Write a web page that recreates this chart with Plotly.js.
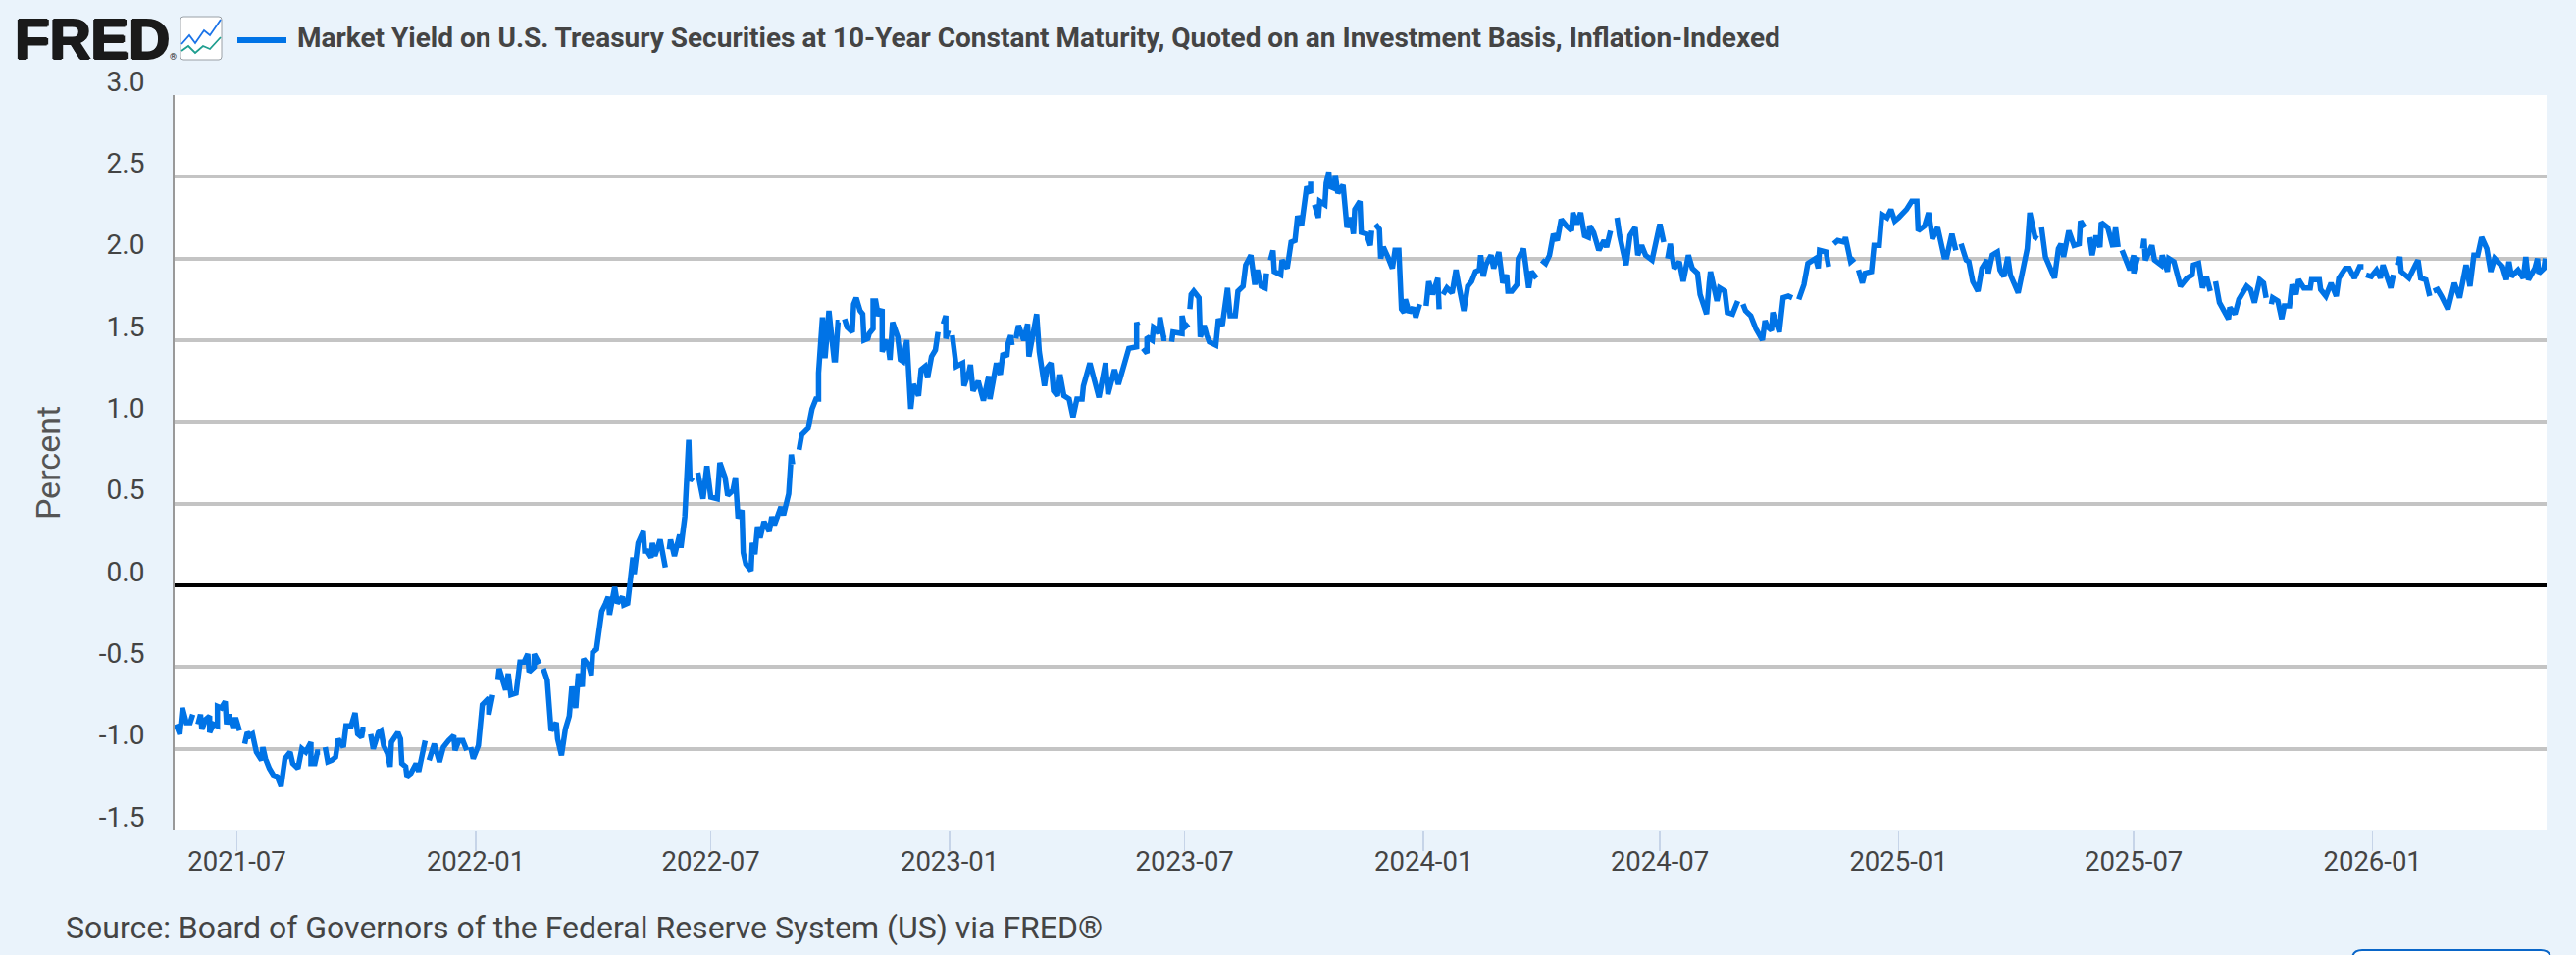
<!DOCTYPE html>
<html><head><meta charset="utf-8">
<script src="https://cdn.plot.ly/plotly-3.0.1.min.js"></script>
<style>html,body{margin:0;padding:0;background:#eaf3fb}#chart{width:2626px;height:974px}</style>
</head><body><div id="chart"></div>
<script>
const seriesName = "Market Yield on U.S. Treasury Securities at 10-Year Constant Maturity, Quoted on an Investment Basis, Inflation-Indexed";
const sourceText = "Source: Board of Governors of the Federal Reserve System (US) via FRED®";
const yTicks = [-1.5,-1,-0.5,0,0.5,1,1.5,2,2.5,3];
const yTickLabels = ["-1.5","-1.0","-0.5","0.0","0.5","1.0","1.5","2.0","2.5","3.0"];
const xTicks = ["2021-07-01","2022-01-01","2022-07-01","2023-01-01","2023-07-01","2024-01-01","2024-07-01","2025-01-01","2025-07-01","2026-01-01"];
const xTickLabels = ["2021-07","2022-01","2022-07","2023-01","2023-07","2024-01","2024-07","2025-01","2025-07","2026-01"];
const firstDay = "2021-07-01";
// observation day (days after firstDay) for each continuous run between missing observations
const dayRuns = [
[-47,-44,-42,-39,-36,-34],
[-30,-28,-27,-24,-21,-21,-18,-15,-15,-12,-9,-8,-6,-3,-1,2],
[6,8,10,12,15,19,20,22,25,28,31,34,37,39,41,43,47,50,53,57,57,60,62,64],
[68,70,73,76,78,82,84,88,91,93,96,97,99],
[103,105,109,111,113,116,118,119,124,126,127,130,131,134,138,140,145],
[148,152,156,159,163,167,168,171,174,177],
[180,182,186,189,194,194,197],
[201,202,207,209,211,215,218,221,224,225,229,229,233],
[236,239,242,246,247,250,253,256,258,261,263,266,267,271,273,274,277,281,284,286,287,291,293,297,298,301,305,306,309,313,314,316,319,320,322,326,330],
[333,334,337,341,342,345,348,349,351],
[355,357,359,362,365,370,372,376,378,382,384,386,389,390,392,396,397,399,401,403,406,410,412,414,419,421,425,427,428],
[433,435,440,443,446,448,448,451,453,456,460,461,463,464],
[468,470,474,475,477,480,482,483,486,487,490,490,492,494,497,497,501,503,505,509,511,513,516,519,521,525,527,530,532,535,538,540],
[544,546,546,548],
[551,554,559,560,564,565,567,571,574,575,579,580,585,588,590,593,594,596,597],
[600,602,606,609,610,616,618,622,624,627,629,632,634,637,641,644,647,651,652,657,660,664,669,671,676,679,683,687,693,693,694],
[698,701,701,705,706,708,710,711,714,716],
[720,721,728,728,730,733],
[734,735,737,741,742,745,747,749,754,756,759,763,765,769,771,775,777,781,784,786,789,792,793],
[796,798,799,804,805,809,812,815,817,820,824,827,827],
[830,833,834,838,839,841,842,845,846,848,852,855,858,860,861,865,866,870,873,874],
[877,880,881,883,887,890,892,895,897,899,900,903,906,908,911],
[916,918,921,925,926],
[929,932,936,939,941,945,948,951,954,957,958,960,962,966,968,972,975,978,979,982,986,987,991,995,997,1001],
[1005,1008,1011,1014,1017,1020,1024,1028,1029,1032,1035,1038,1041,1042,1045,1049,1053,1055,1058],
[1063,1065,1070,1073,1077,1079,1082,1085,1090,1093,1096,1099],
[1102,1104,1107,1111,1114,1118,1121,1125,1127,1132,1134,1135,1140,1142,1146,1148,1152,1156],
[1160,1162,1166,1170,1175,1177,1179,1182,1183,1188,1191,1195,1198],
[1203,1207,1210,1216,1218,1219,1224,1226],
[1230,1233,1238,1239,1243,1246],
[1249,1252,1254,1259,1261,1265,1267,1271,1274,1277,1280,1286,1290,1294,1295,1300,1303,1306,1310,1315,1317,1321,1324],
[1328,1332,1334,1337,1341,1344,1348,1349,1352,1356,1358,1361,1364,1366,1372,1376,1379,1381,1385,1387],
[1390,1393,1400,1403,1405,1407,1411,1415,1419,1420,1423],
[1427,1429,1432,1435,1436,1441,1445,1447,1449],
[1452,1458,1461,1461,1464],
[1468,1469,1470,1475,1477,1482,1483,1487,1488,1492,1497,1502,1506,1507,1511,1514,1517,1520],
[1524,1527,1534,1535,1539,1542,1548,1551,1554,1558,1561,1563],
[1567,1568,1572,1575,1577,1581,1583,1586,1588,1592,1597,1598,1604,1605,1609,1613,1617,1619,1624,1627,1631,1635,1638],
[1640,1644,1648,1651,1653,1657,1659,1661],
[1664,1666,1667,1673,1678,1680,1682,1686,1689],
[1692,1695,1698,1703,1708,1712,1717,1720,1723,1726,1729,1733,1736,1739,1745,1748,1750,1752,1757,1761,1763,1765,1770,1772,1773,1777,1778]
];
const yieldRuns = [
[-0.85,-0.91,-0.75,-0.84,-0.84,-0.79],
[-0.85,-0.79,-0.88,-0.82,-0.80,-0.90,-0.85,-0.86,-0.74,-0.75,-0.71,-0.85,-0.79,-0.87,-0.81,-0.89],
[-0.97,-0.90,-0.92,-0.91,-1.02,-1.07,-0.99,-1.06,-1.12,-1.16,-1.17,-1.23,-1.06,-1.04,-1.02,-1.09,-1.12,-1.00,-1.02,-0.96,-1.09,-1.09,-1.02,-1.02],
[-0.99,-1.08,-1.07,-1.05,-0.94,-0.99,-0.86,-0.86,-0.78,-0.91,-0.93,-0.88,-0.88],
[-0.91,-1.00,-0.90,-0.89,-0.98,-1.03,-1.11,-0.96,-0.90,-0.94,-1.09,-1.11,-1.17,-1.15,-1.09,-1.14,-0.95],
[-1.07,-0.97,-1.08,-0.99,-0.95,-0.92,-1.01,-0.95,-0.95,-1.01],
[-0.99,-1.06,-0.98,-0.73,-0.69,-0.79,-0.67],
[-0.58,-0.51,-0.64,-0.54,-0.67,-0.66,-0.47,-0.47,-0.42,-0.53,-0.50,-0.42,-0.48],
[-0.51,-0.58,-0.89,-0.84,-0.94,-1.04,-0.88,-0.80,-0.62,-0.75,-0.54,-0.62,-0.45,-0.49,-0.55,-0.41,-0.39,-0.16,-0.11,-0.07,-0.18,-0.01,-0.11,-0.07,-0.12,-0.11,0.17,0.07,0.26,0.33,0.21,0.21,0.17,0.26,0.18,0.28,0.11],
[0.22,0.28,0.18,0.31,0.23,0.42,0.89,0.64,0.66],
[0.69,0.60,0.53,0.73,0.54,0.53,0.75,0.66,0.55,0.58,0.66,0.41,0.46,0.20,0.13,0.09,0.26,0.19,0.36,0.29,0.39,0.33,0.42,0.37,0.48,0.43,0.56,0.80,0.74],
[0.83,0.92,0.96,1.08,1.14,1.14,1.30,1.64,1.39,1.68,1.38,1.38,1.61,1.61],
[1.63,1.58,1.55,1.72,1.76,1.68,1.66,1.50,1.51,1.54,1.57,1.74,1.74,1.65,1.69,1.43,1.50,1.38,1.61,1.52,1.38,1.37,1.50,1.08,1.23,1.16,1.32,1.34,1.27,1.40,1.44,1.55],
[1.60,1.65,1.51,1.56],
[1.53,1.34,1.36,1.22,1.31,1.35,1.19,1.25,1.16,1.13,1.28,1.14,1.36,1.29,1.42,1.40,1.48,1.53,1.47],
[1.51,1.59,1.50,1.60,1.40,1.66,1.43,1.22,1.33,1.36,1.19,1.16,1.29,1.16,1.14,1.03,1.14,1.14,1.22,1.36,1.27,1.15,1.36,1.17,1.32,1.23,1.34,1.45,1.46,1.61,1.59],
[1.45,1.42,1.52,1.50,1.58,1.57,1.54,1.64,1.51,1.51],
[1.49,1.55,1.54,1.65,1.58,1.60],
[1.69,1.78,1.80,1.76,1.52,1.59,1.53,1.49,1.47,1.63,1.59,1.82,1.65,1.65,1.80,1.83,1.96,2.02,1.84,1.93,1.83,1.82,1.91],
[1.99,2.05,1.92,1.90,1.99,1.94,2.10,2.11,2.26,2.20,2.44,2.40,2.47],
[2.33,2.25,2.35,2.33,2.46,2.53,2.44,2.43,2.51,2.40,2.45,2.19,2.25,2.15,2.30,2.35,2.16,2.15,2.08,2.17],
[2.21,2.18,2.00,2.07,2.00,1.94,2.05,2.05,1.69,1.67,1.75,1.67,1.70,1.64,1.72],
[1.71,1.86,1.78,1.88,1.69],
[1.78,1.82,1.79,1.93,1.84,1.68,1.83,1.86,1.92,1.93,2.02,1.89,1.96,2.02,1.94,2.04,1.85,1.90,1.80,1.80,1.84,2.00,2.06,1.82,1.92,1.88],
[1.99,1.97,2.02,2.15,2.11,2.24,2.20,2.17,2.28,2.21,2.28,2.14,2.13,2.20,2.16,2.05,2.11,2.07,2.17],
[2.25,2.14,1.96,2.14,2.19,2.02,2.08,2.02,1.99,2.10,2.21,2.10],
[2.00,2.09,1.94,1.98,1.86,2.02,1.94,1.91,1.78,1.66,1.85,1.92,1.74,1.82,1.80,1.67,1.66,1.74],
[1.72,1.68,1.65,1.57,1.50,1.62,1.58,1.56,1.67,1.55,1.76,1.77,1.76],
[1.75,1.84,1.97,2.00,1.94,2.05,2.04,1.95],
[2.09,2.11,2.10,2.13,1.98,2.00],
[1.93,1.85,1.91,1.92,2.08,2.08,2.27,2.25,2.30,2.23,2.25,2.30,2.35,2.35,2.17,2.20,2.28,2.12,2.19,2.01,2.01,2.15,2.05],
[2.09,1.99,1.98,1.86,1.80,1.94,1.99,1.91,2.02,2.04,1.93,1.89,2.01,1.90,1.79,1.93,2.06,2.28,2.13,2.12],
[2.19,2.01,1.88,2.06,2.09,2.01,2.17,2.08,2.09,2.23,2.19],
[2.13,2.02,2.14,2.07,2.22,2.19,2.07,2.19,2.07],
[2.05,1.93,2.02,1.91,2.01],
[2.06,2.12,1.99,2.08,1.99,1.96,2.02,1.92,2.00,1.98,1.83,1.88,1.90,1.96,1.97,1.82,1.89,1.80],
[1.86,1.73,1.63,1.70,1.66,1.75,1.83,1.81,1.73,1.87,1.85,1.76],
[1.72,1.76,1.74,1.63,1.71,1.71,1.84,1.78,1.87,1.82,1.82,1.87,1.87,1.81,1.77,1.85,1.77,1.88,1.94,1.94,1.88,1.95,1.95],
[1.90,1.89,1.93,1.88,1.96,1.88,1.82,1.90],
[1.96,2.01,1.92,1.88,1.96,1.99,1.88,1.87,1.77],
[1.80,1.81,1.77,1.69,1.85,1.76,1.96,1.83,2.02,2.02,2.13,2.06,1.92,2.00,1.95,1.87,1.98,1.89,1.93,1.88,2.01,1.87,1.94,2.00,1.91,1.94,2.00]
];

const msPerDay = 86400000, t0 = Date.parse(firstDay + "T00:00:00Z");
const toDate = d => new Date(t0 + d * msPerDay).toISOString().slice(0, 10);
const dates = [], yields = [];
dayRuns.forEach((run, i) => {
  const n = Math.min(run.length, yieldRuns[i].length);
  if (run.length !== yieldRuns[i].length) console.error("run", i, run.length, yieldRuns[i].length);
  for (let k = 0; k < n; k++) { dates.push(toDate(run[k])); yields.push(yieldRuns[i][k]); }
  dates.push(toDate(run[n - 1] + 1)); yields.push(null);
});

const W = 2626, H = 974, L = 178, R = 2596, T = 97, B = 847;
const px = x => (x - L) / (R - L), py = y => (B - y) / (B - T);
const ink = "#444444", blue = "#0073e6";
const pathFrom = pts => pts.map((p, i) => (i ? "L" : "M") + px(p[0]) + "," + py(p[1])).join(" ");
const paperShape = o => Object.assign({xref: "paper", yref: "paper", layer: "above"}, o);

const layout = {
  width: W, height: H,
  margin: {l: L, r: W - R, t: T, b: H - B, pad: 0},
  paper_bgcolor: "#eaf3fb", plot_bgcolor: "#ffffff",
  font: {family: "Roboto, sans-serif", size: 27, color: ink},
  showlegend: false,
  title: {text: "<b>" + seriesName + "</b>", x: 303 / W, xref: "container", xanchor: "left",
          y: 1 - 38 / H, yref: "container", yanchor: "middle", font: {family: "Roboto, sans-serif", size: 28, color: ink}},
  xaxis: {type: "date", range: ["2021-05-14", "2026-05-15"], tickmode: "array", tickvals: xTicks, ticktext: xTickLabels,
          ticks: "outside", ticklen: 20, tickwidth: 1.5, tickcolor: "#c6d4e8", showgrid: false, zeroline: false, showline: false,
          ticklabelstandoff: -13, tickfont: {size: 27.5, color: ink}},
  yaxis: {range: [-1.5, 3], tickmode: "array", tickvals: yTicks, ticktext: yTickLabels, ticks: "", showgrid: true,
          gridcolor: "#c4c4c4", gridwidth: 4, zeroline: true, zerolinecolor: "#000000", zerolinewidth: 4,
          showline: true, linecolor: "#999999", linewidth: 2, ticklabelstandoff: 23, ticklabelshift: -14,
          tickfont: {size: 28, color: ink},
          title: {text: "Percent", standoff: 29, font: {size: 34, color: "#555555"}}},
  shapes: [
    paperShape({type: "line", x0: px(242), x1: px(292), y0: py(41), y1: py(41), line: {color: blue, width: 6}}),
    paperShape({type: "path", path: `M${px(187)},${py(17)} L${px(223)},${py(17)} Q${px(226)},${py(17)} ${px(226)},${py(20)} L${px(226)},${py(58)} Q${px(226)},${py(61)} ${px(223)},${py(61)} L${px(187)},${py(61)} Q${px(184)},${py(61)} ${px(184)},${py(58)} L${px(184)},${py(20)} Q${px(184)},${py(17)} ${px(187)},${py(17)} Z`,
      fillcolor: "#ffffff", line: {color: "#9aa0a6", width: 1}}),
    paperShape({type: "path", path: pathFrom([[185,45],[193,36],[199,44],[208,31],[214,36],[225,20]]), line: {color: "#1a73e8", width: 1.8}}),
    paperShape({type: "path", path: pathFrom([[185,52],[192,47],[199,54],[207,47],[214,50],[225,38]]), line: {color: "#1f9e8f", width: 1.8}}),
    paperShape({type: "path", path: `M${px(2398)},${py(990)} L${px(2398)},${py(978)} Q${px(2398)},${py(969)} ${px(2408)},${py(969)} L${px(2590)},${py(969)} Q${px(2600)},${py(969)} ${px(2600)},${py(978)} L${px(2600)},${py(990)} Z`,
      fillcolor: "#ffffff", line: {color: "#0a66c8", width: 2}})
  ],
  annotations: [
    {xref: "paper", yref: "paper", x: px(13), y: py(40), xanchor: "left", yanchor: "middle", showarrow: false,
     text: "<b>FRED</b>", font: {family: "Liberation Sans, Arial, sans-serif", size: 58, color: "#1a1a1a",
       shadow: "1.5px 0 0 #1a1a1a, -1px 0 0 #1a1a1a, 0 1px 0 #1a1a1a, 0 -1px 0 #1a1a1a"}},
    {xref: "paper", yref: "paper", x: px(176), y: py(58), xanchor: "center", yanchor: "middle", showarrow: false,
     text: "®", font: {size: 9, color: "#1a1a1a"}},
    {xref: "paper", yref: "paper", x: px(65), y: py(946), xanchor: "left", yanchor: "middle", showarrow: false,
     text: sourceText, font: {size: 32, color: ink}}
  ]
};
Plotly.newPlot("chart", [{
  type: "scatter", mode: "lines", name: seriesName, x: dates, y: yields, connectgaps: false,
  line: {color: blue, width: 5.5, shape: "linear"}
}], layout, {displayModeBar: false, staticPlot: true});
</script></body></html>
